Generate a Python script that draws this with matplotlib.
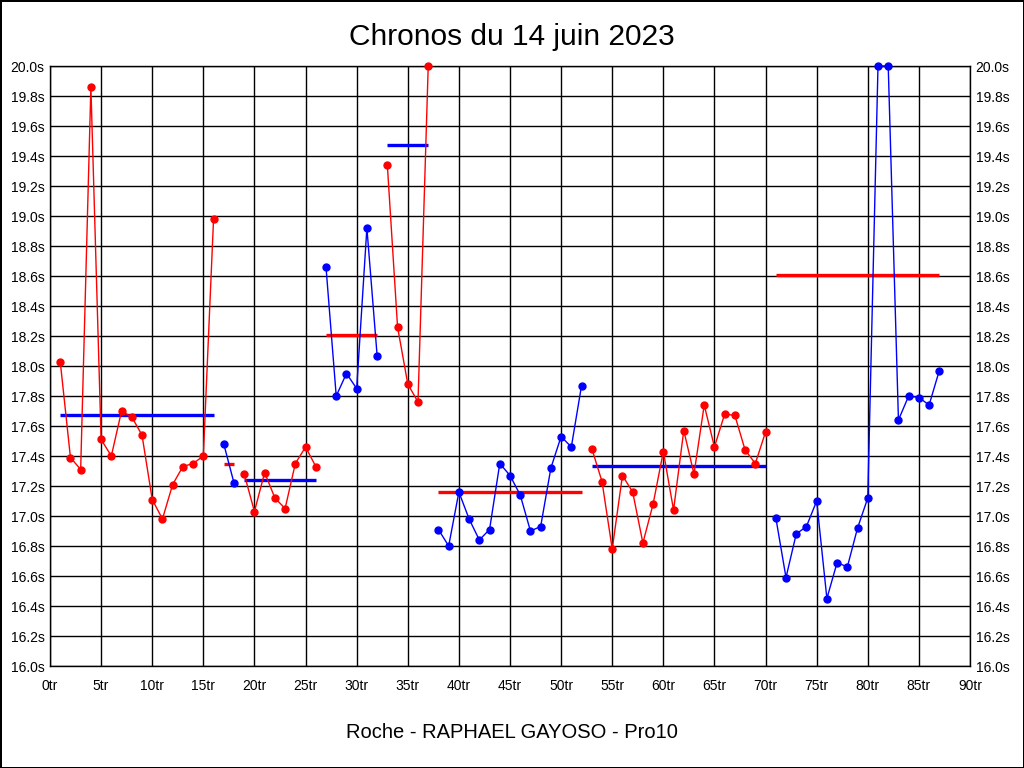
import matplotlib
matplotlib.use('Agg')
import matplotlib.pyplot as plt
import numpy as np

plt.rcParams['font.family'] = ['Liberation Sans', 'DejaVu Sans']

# lap times in seconds (laps 1..87), values above 20 s are drawn clipped at the top
lap_times = [
    18.03, 17.39, 17.31, 19.86, 17.51, 17.40, 17.70, 17.66, 17.54, 17.11,
    16.98, 17.21, 17.33, 17.35, 17.40, 18.98,
    17.48, 17.22,
    17.28, 17.03, 17.29, 17.12, 17.05, 17.35, 17.46, 17.33,
    18.66, 17.80, 17.95, 17.85, 18.92, 18.07,
    19.34, 18.26, 17.88, 17.76, 24.11,
    16.91, 16.80, 17.16, 16.98, 16.84, 16.91, 17.35, 17.27, 17.14, 16.90,
    16.93, 17.32, 17.53, 17.46, 17.87,
    17.45, 17.23, 16.78, 17.27, 17.16, 16.82, 17.08, 17.43, 17.04, 17.57,
    17.28, 17.74, 17.46, 17.68, 17.67, 17.44, 17.35, 17.56,
    16.99, 16.59, 16.88, 16.93, 17.10, 16.45, 16.69, 16.66, 16.92, 17.12,
    29.60, 29.50, 17.64, 17.80, 17.79, 17.74, 17.97,
]
# number of laps in each run
run_lengths = [16, 2, 8, 6, 5, 15, 18, 17]
run_colors = ['#ff0000', '#0000ff']

title = "Chronos du 14 juin 2023"
subtitle = "Roche - RAPHAEL GAYOSO - Pro10"
x_ticks = list(range(0, 91, 5))
y_ticks = [16.0, 16.2, 16.4, 16.6, 16.8, 17.0, 17.2, 17.4, 17.6, 17.8,
           18.0, 18.2, 18.4, 18.6, 18.8, 19.0, 19.2, 19.4, 19.6, 19.8, 20.0]
y_max = 20.0

fig = plt.figure(figsize=(10.24, 7.68), dpi=100)
ax = fig.add_axes([50 / 1024, 102 / 768, 920 / 1024, 600 / 768])

times = np.array(lap_times)
laps = np.arange(1, len(times) + 1)

start = 0
for i, n in enumerate(run_lengths):
    col = run_colors[i % 2]
    other = run_colors[(i + 1) % 2]
    x = laps[start:start + n]
    y = times[start:start + n]
    # mean of the run, drawn in the other colour
    ax.plot([x[0], x[-1]], [y.mean(), y.mean()], color=other, linewidth=2.4,
            solid_capstyle='butt', zorder=3)
    ax.plot(x, np.minimum(y, y_max), color=col, linewidth=1, marker='o',
            markersize=5, clip_on=False, zorder=4)
    start += n

ax.set_xlim(0, 90)
ax.set_ylim(16, 20)
ax.set_xticks(x_ticks)
ax.set_xticklabels([f"{t}tr" for t in x_ticks])
ax.set_yticks(y_ticks)
ax.set_yticklabels([f"{t:.1f}s" for t in y_ticks])
ax.tick_params(length=0, labelsize=10, pad=4, right=True, labelright=True)
ax.tick_params(axis='x', pad=9)
ax.grid(color='black', linewidth=1)
ax.set_axisbelow(True)
for s in ax.spines.values():
    s.set_color('black')
    s.set_linewidth(1)

fig.text(0.5, 1 - 37 / 768, title, ha='center', va='center', fontsize=21.5)
fig.text(0.5, 1 - 733 / 768, subtitle, ha='center', va='center', fontsize=14.5)

fig.patch.set_edgecolor('black')
fig.patch.set_linewidth(2)
fig.savefig('out.png', dpi=100, facecolor='white', edgecolor='black')
